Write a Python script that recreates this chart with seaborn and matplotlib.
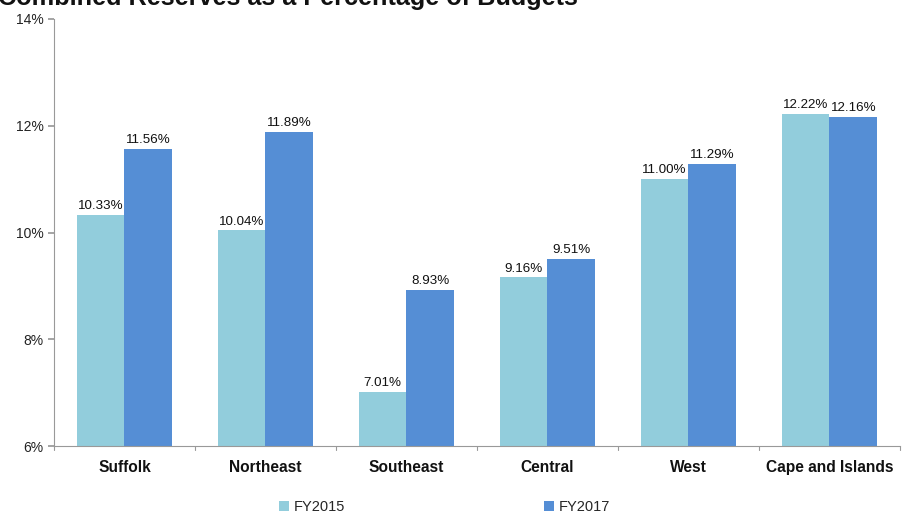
import matplotlib
matplotlib.use("Agg")
import matplotlib.pyplot as plt
import seaborn as sns
import pandas as pd
from matplotlib.patches import Patch

categories = ["Suffolk", "Northeast", "Southeast", "Central", "West", "Cape and Islands"]
fy2015 = [10.33, 10.04, 7.01, 9.16, 11.00, 12.22]
fy2017 = [11.56, 11.89, 8.93, 9.51, 11.29, 12.16]
series_names = ["FY2015", "FY2017"]
yticks = [6, 8, 10, 12, 14]
ytick_labels = ["6%", "8%", "10%", "12%", "14%"]
title = "Combined Reserves as a Percentage of Budgets"

colors = ["#92CDDC", "#558ED5"]

df = pd.DataFrame({
    "Region": categories * 2,
    "Series": [series_names[0]] * len(categories) + [series_names[1]] * len(categories),
    "Value": fy2015 + fy2017,
})

sns.set_theme(style="white")
plt.rcParams["font.family"] = ["Liberation Sans", "DejaVu Sans"]

fig = plt.figure(figsize=(9.02, 5.14), dpi=100)
ax = fig.add_axes([54 / 902, 1 - 446 / 514, 846 / 902, (446 - 19) / 514])

sns.barplot(data=df, x="Region", y="Value", hue="Series", palette=colors,
            width=0.68, saturation=1, ax=ax, legend=False, errorbar=None,
            linewidth=0, edgecolor="none")

ax.set_ylim(6, 14)
ax.set_xlim(-0.5, len(categories) - 0.5)
ax.set_yticks(yticks)
ax.set_yticklabels(ytick_labels, fontsize=10, color="#222222")
ax.set_xticks(range(len(categories)))
ax.set_xticklabels(categories, fontsize=11.2, fontweight="bold", color="#111111")
ax.tick_params(axis="x", length=0, pad=10)
ax.tick_params(axis="y", length=4, color="#999999", direction="out", left=True)
ax.set_xlabel("")
ax.set_ylabel("")

# category separator ticks
for k in range(len(categories) + 1):
    ax.plot([k - 0.5, k - 0.5], [6, 5.93], color="#999999", lw=0.8, clip_on=False)

for s in ["top", "right"]:
    ax.spines[s].set_visible(False)
for s in ["left", "bottom"]:
    ax.spines[s].set_color("#999999")
    ax.spines[s].set_linewidth(0.8)

for cont in ax.containers:
    ax.bar_label(cont, labels=[f"{v:.2f}%" for v in cont.datavalues],
                 fontsize=9.6, padding=2, color="#111111")

fig.text(-0.002, 1 - 5 / 514, title, fontsize=18.2, fontweight="bold", ha="left",
         va="baseline", color="#111111")

handles = [Patch(facecolor=c, edgecolor="none") for c in colors]
fig.legend(handles, series_names, loc="center", bbox_to_anchor=(0.4926, 1 - 507 / 514),
           ncol=2, frameon=False, fontsize=10.5, handlelength=0.7, handleheight=0.7,
           handletextpad=0.3, columnspacing=13.65)

fig.savefig("out.png", dpi=100)
